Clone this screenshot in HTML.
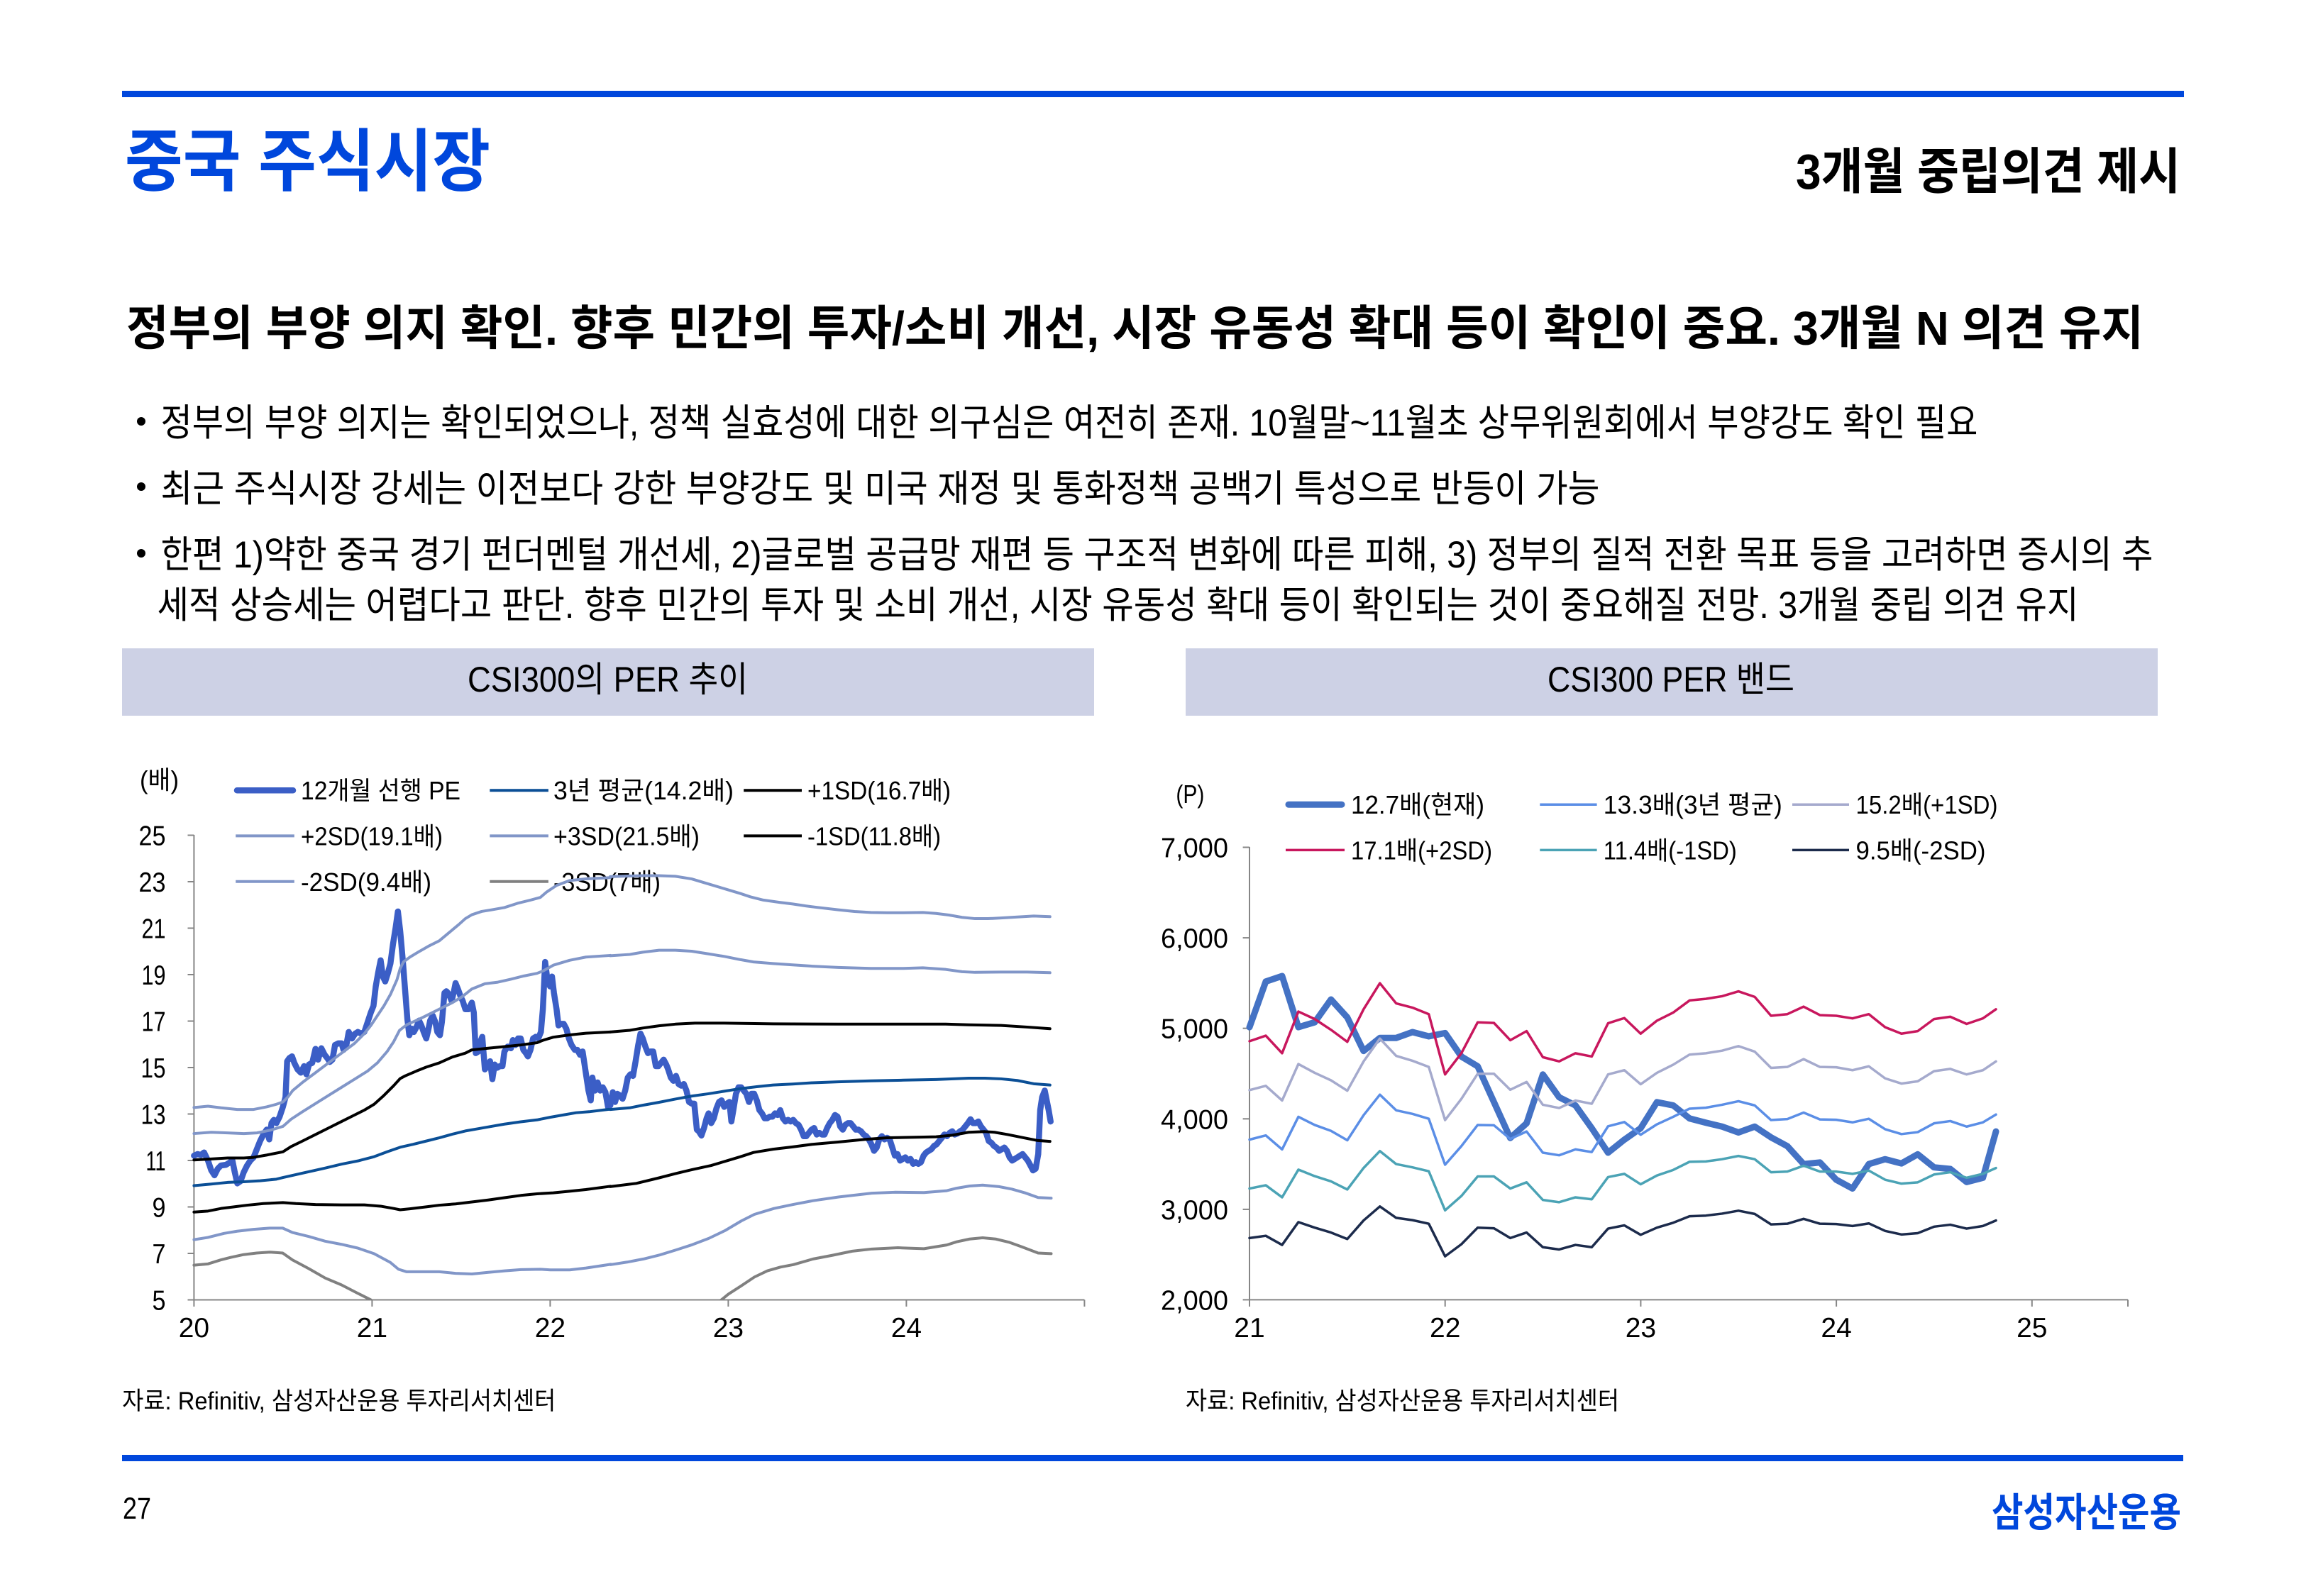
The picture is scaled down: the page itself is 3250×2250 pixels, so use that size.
<!DOCTYPE html>
<html lang="ko">
<head>
<meta charset="utf-8">
<title>중국 주식시장</title>
<style>
  html,body{margin:0;padding:0;background:#fff;}
  body{width:3250px;height:2250px;overflow:hidden;}
  svg{display:block;}
  text{font-family:"Liberation Sans","Noto Sans CJK KR","NanumGothic",sans-serif;fill:#000;}
  .ns{vector-effect:non-scaling-stroke;}
</style>
</head>
<body>
<svg xmlns="http://www.w3.org/2000/svg" width="3250" height="2250" viewBox="0 0 3250 2250">
  <defs>
    <clipPath id="clipL"><rect x="260" y="1080" width="1290" height="753"/></clipPath>
    <clipPath id="clipR"><rect x="1755" y="1100" width="1260" height="733"/></clipPath>
  </defs>
  <rect width="3250" height="2250" fill="#fff"/>

  <!-- Header -->
  <rect x="172" y="128" width="2906" height="9" fill="#0047DC"/>
  <text x="176" y="261" font-size="96" font-weight="700" style="fill:#0047DC" textLength="515" lengthAdjust="spacingAndGlyphs">중국 주식시장</text>
  <text x="2531" y="266" font-size="70" font-weight="700" textLength="542" lengthAdjust="spacingAndGlyphs">3개월 중립의견 제시</text>

  <text x="178" y="486" font-size="67" font-weight="700" textLength="2843" lengthAdjust="spacingAndGlyphs">정부의 부양 의지 확인. 향후 민간의 투자/소비 개선, 시장 유동성 확대 등이 확인이 중요. 3개월 N 의견 유지</text>

  <circle cx="199" cy="594" r="6" fill="#000"/>
  <text x="226.5" y="614" font-size="53" textLength="2561" lengthAdjust="spacingAndGlyphs">정부의 부양 의지는 확인되었으나, 정책 실효성에 대한 의구심은 여전히 존재. 10월말~11월초 상무위원회에서 부양강도 확인 필요</text>
  <circle cx="199" cy="686" r="6" fill="#000"/>
  <text x="226.5" y="707" font-size="53" textLength="2028" lengthAdjust="spacingAndGlyphs">최근 주식시장 강세는 이전보다 강한 부양강도 및 미국 재정 및 통화정책 공백기 특성으로 반등이 가능</text>
  <circle cx="199" cy="780" r="6" fill="#000"/>
  <text x="226.5" y="800" font-size="53" textLength="2808" lengthAdjust="spacingAndGlyphs">한편 1)약한 중국 경기 펀더멘털 개선세, 2)글로벌 공급망 재편 등 구조적 변화에 따른 피해, 3) 정부의 질적 전환 목표 등을 고려하면 증시의 추</text>
  <text x="221.5" y="871" font-size="53" textLength="2708" lengthAdjust="spacingAndGlyphs">세적 상승세는 어렵다고 판단. 향후 민간의 투자 및 소비 개선, 시장 유동성 확대 등이 확인되는 것이 중요해질 전망. 3개월 중립 의견 유지</text>

  <!-- Chart header boxes -->
  <rect x="172" y="914" width="1370" height="95" fill="#CDD1E5"/>
  <text x="659" y="975" font-size="50" textLength="395" lengthAdjust="spacingAndGlyphs">CSI300의 PER 추이</text>
  <rect x="1671" y="914" width="1370" height="95" fill="#CDD1E5"/>
  <text x="2181" y="975" font-size="50" textLength="348" lengthAdjust="spacingAndGlyphs">CSI300 PER 밴드</text>

  <!-- ================= LEFT CHART ================= -->
  <text x="197" y="1112" font-size="36" textLength="55" lengthAdjust="spacingAndGlyphs">(배)</text>

  <!-- legend -->
  <g fill="none">
    <line x1="334" y1="1114.2" x2="413" y2="1114.2" stroke="#3B5EC6" stroke-width="8.5" stroke-linecap="round"/>
    <line x1="690.3" y1="1114.2" x2="772.9" y2="1114.2" stroke="#0B4F96" stroke-width="4"/>
    <line x1="1048.2" y1="1114.2" x2="1130" y2="1114.2" stroke="#000" stroke-width="4"/>
    <line x1="332.2" y1="1178.4" x2="414.8" y2="1178.4" stroke="#8196C8" stroke-width="4"/>
    <line x1="690.3" y1="1178.4" x2="772.9" y2="1178.4" stroke="#8196C8" stroke-width="4"/>
    <line x1="1048.2" y1="1178.4" x2="1130" y2="1178.4" stroke="#000" stroke-width="4"/>
    <line x1="332.2" y1="1242.7" x2="414.8" y2="1242.7" stroke="#8196C8" stroke-width="4"/>
    <line x1="690.3" y1="1242.7" x2="772.9" y2="1242.7" stroke="#808080" stroke-width="4"/>
  </g>
  <g font-size="36">
    <text x="424" y="1127" textLength="225" lengthAdjust="spacingAndGlyphs">12개월 선행 PE</text>
    <text x="780" y="1127" textLength="254" lengthAdjust="spacingAndGlyphs">3년 평균(14.2배)</text>
    <text x="1138" y="1127" textLength="202" lengthAdjust="spacingAndGlyphs">+1SD(16.7배)</text>
    <text x="424" y="1191.5" textLength="200" lengthAdjust="spacingAndGlyphs">+2SD(19.1배)</text>
    <text x="780" y="1191.5" textLength="206" lengthAdjust="spacingAndGlyphs">+3SD(21.5배)</text>
    <text x="1138" y="1191.5" textLength="188" lengthAdjust="spacingAndGlyphs">-1SD(11.8배)</text>
    <text x="424" y="1256" textLength="184" lengthAdjust="spacingAndGlyphs">-2SD(9.4배)</text>
    <text x="780" y="1256" textLength="151" lengthAdjust="spacingAndGlyphs">-3SD(7배)</text>
  </g>

  <!-- axes -->
  <g stroke="#868686" stroke-width="2" fill="none">
    <line x1="273.4" y1="1177" x2="273.4" y2="1833"/>
    <line x1="273.4" y1="1832.5" x2="1528.4" y2="1832.5"/>
    <line x1="264.5" y1="1177.5" x2="273.4" y2="1177.5"/>
    <line x1="264.5" y1="1243" x2="273.4" y2="1243"/>
    <line x1="264.5" y1="1308.5" x2="273.4" y2="1308.5"/>
    <line x1="264.5" y1="1374" x2="273.4" y2="1374"/>
    <line x1="264.5" y1="1439.5" x2="273.4" y2="1439.5"/>
    <line x1="264.5" y1="1505" x2="273.4" y2="1505"/>
    <line x1="264.5" y1="1570.5" x2="273.4" y2="1570.5"/>
    <line x1="264.5" y1="1636" x2="273.4" y2="1636"/>
    <line x1="264.5" y1="1701.5" x2="273.4" y2="1701.5"/>
    <line x1="264.5" y1="1767" x2="273.4" y2="1767"/>
    <line x1="264.5" y1="1832.5" x2="273.4" y2="1832.5"/>
    <line x1="273.4" y1="1832.5" x2="273.4" y2="1842"/>
    <line x1="524.4" y1="1832.5" x2="524.4" y2="1842"/>
    <line x1="775.4" y1="1832.5" x2="775.4" y2="1842"/>
    <line x1="1026.4" y1="1832.5" x2="1026.4" y2="1842"/>
    <line x1="1277.4" y1="1832.5" x2="1277.4" y2="1842"/>
    <line x1="1528.4" y1="1832.5" x2="1528.4" y2="1842"/>
  </g>
  <g font-size="39" text-anchor="end">
    <text x="233.5" y="1191.5" textLength="38" lengthAdjust="spacingAndGlyphs">25</text>
    <text x="233.5" y="1257" textLength="38" lengthAdjust="spacingAndGlyphs">23</text>
    <text x="233.5" y="1322.5" textLength="34" lengthAdjust="spacingAndGlyphs">21</text>
    <text x="233.5" y="1388" textLength="34" lengthAdjust="spacingAndGlyphs">19</text>
    <text x="233.5" y="1453.5" textLength="34" lengthAdjust="spacingAndGlyphs">17</text>
    <text x="233.5" y="1519" textLength="35" lengthAdjust="spacingAndGlyphs">15</text>
    <text x="233.5" y="1584.5" textLength="35" lengthAdjust="spacingAndGlyphs">13</text>
    <text x="233.5" y="1650" textLength="28" lengthAdjust="spacingAndGlyphs">11</text>
    <text x="233.5" y="1715.5" textLength="19" lengthAdjust="spacingAndGlyphs">9</text>
    <text x="233.5" y="1781" textLength="19" lengthAdjust="spacingAndGlyphs">7</text>
    <text x="233.5" y="1846.5" textLength="19" lengthAdjust="spacingAndGlyphs">5</text>
  </g>
  <g font-size="39" text-anchor="middle">
    <text x="273.4" y="1885">20</text>
    <text x="524.4" y="1885">21</text>
    <text x="775.4" y="1885">22</text>
    <text x="1026.4" y="1885">23</text>
    <text x="1277.4" y="1885">24</text>
  </g>

  <g clip-path="url(#clipL)" fill="none" stroke-linejoin="round" stroke-linecap="round">
    <!-- zoom-3 region -->
    <g transform="matrix(0.4591,0,0,0.4591,160,1060)">
      <polyline class="ns" stroke="#3B5EC6" stroke-width="8.5" points="247,1240 258,1235 268,1238 278,1230 290,1255 300,1285 310,1300 320,1280 330,1270 345,1268 355,1262 365,1255 372,1290 380,1325 390,1318 400,1290 410,1270 420,1255 430,1245 440,1220 450,1195 460,1175 470,1160 478,1190 485,1140 492,1130 500,1140 510,1120 520,1090 528,1060 533,950 540,940 548,935 555,955 565,975 575,985 585,965 592,990 600,960 610,955 620,912 628,945 638,910 648,930 656,940 664,952 672,945 680,900 690,895 700,895 706,915 714,905 722,860 732,880 742,865 750,860 760,865 770,860 780,830 790,800 798,780 805,720 812,680 820,640 827,690 834,705 842,680 850,650 858,590 866,540 873,490 880,550 888,640 895,730 902,820 908,870 916,850 922,860 930,845 938,825 945,840 952,860 960,880 966,855 972,825 980,810 988,830 994,860 1002,870 1008,830 1016,740 1022,735 1030,745 1038,765 1045,735 1050,710 1058,730 1065,750 1072,765 1080,790 1090,790 1100,770 1106,800 1112,925 1120,920 1126,890 1132,875 1140,975 1148,965 1156,950 1163,1005 1170,960 1178,970 1186,965 1194,965 1200,920 1210,905 1220,910 1226,885 1234,900 1242,880 1250,880 1258,915 1266,925 1272,935 1280,915 1288,880 1296,875 1304,880 1312,860 1318,790 1325,645 1332,700 1340,720 1346,690 1352,740 1360,790 1366,840 1374,835 1382,835 1390,850 1398,880 1406,900 1416,915 1424,915 1432,930 1440,920 1446,960 1452,1000 1458,1040 1465,1070 1470,1000 1478,1040 1486,1015 1494,1040 1502,1030 1510,1045 1518,1090 1525,1085"/>
      <polyline class="ns" stroke="#0B4F96" stroke-width="4" points="247,1332 300,1327 350,1322 400,1320 450,1317 500,1312 520,1307 560,1298 600,1289 650,1278 700,1266 750,1256 800,1243 840,1228 880,1214 920,1205 960,1195 1000,1185 1040,1174 1080,1164 1120,1157 1160,1150 1200,1143 1250,1136 1300,1130 1340,1122 1380,1115 1420,1108 1460,1105 1525,1097"/>
      <polyline class="ns" stroke="#000" stroke-width="4" points="247,1253 300,1250 350,1247 400,1247 430,1245 470,1238 520,1228 545,1212 580,1195 620,1175 660,1155 700,1135 740,1115 770,1100 800,1082 830,1055 860,1025 880,1003 895,995 930,980 960,968 1000,955 1040,937 1080,925 1100,915 1150,910 1200,905 1250,900 1300,893 1320,885 1350,876 1400,869 1450,864 1525,860"/>
      <polyline class="ns" stroke="#8196C8" stroke-width="4" points="247,1172 300,1168 350,1170 400,1172 440,1170 480,1162 520,1150 545,1128 580,1105 620,1080 660,1055 700,1030 740,1005 780,980 810,955 840,920 860,890 878,855 900,838 940,820 980,800 1010,785 1040,770 1070,752 1100,728 1140,712 1180,707 1220,698 1260,688 1300,680 1320,672 1350,655 1400,640 1450,630 1525,625"/>
      <polyline class="ns" stroke="#8196C8" stroke-width="4" points="247,1092 290,1088 330,1093 380,1098 430,1098 470,1090 500,1082 520,1075 535,1060 550,1040 580,1015 620,985 660,955 700,925 740,895 770,865 790,840 810,810 830,780 850,745 870,700 880,665 890,645 910,630 940,612 970,595 1000,580 1030,555 1060,530 1080,512 1100,500 1130,490 1160,485 1200,478 1240,465 1280,455 1310,447 1330,430 1360,410 1400,395 1450,390 1525,386"/>
      <polyline class="ns" stroke="#000" stroke-width="4" points="247,1413 290,1410 330,1402 370,1397 410,1392 460,1387 520,1384 560,1387 620,1390 700,1391 770,1391 820,1395 860,1402 880,1406 910,1403 960,1397 1000,1392 1050,1388 1100,1382 1150,1376 1200,1369 1250,1362 1300,1357 1350,1354 1400,1349 1450,1344 1525,1334"/>
    </g>
    <!-- zoom-4 region -->
    <g transform="matrix(0.4591,0,0,0.4591,860,1060)">
      <polyline class="ns" stroke="#3B5EC6" stroke-width="8.5" points="0,1085 8,1045 15,1075 22,1050 30,1055 38,1065 46,1040 54,1000 62,990 70,995 78,950 86,900 93,865 100,880 108,905 116,925 124,920 132,920 140,965 148,965 156,955 164,945 172,960 178,975 186,1000 194,1010 202,995 210,1020 218,1025 226,1020 234,1040 242,1075 250,1080 258,1080 266,1160 272,1165 280,1178 288,1155 296,1125 302,1110 310,1140 318,1125 326,1095 334,1075 342,1070 350,1090 358,1080 366,1075 372,1135 378,1100 386,1050 394,1030 402,1030 410,1040 418,1050 426,1075 434,1050 442,1050 450,1070 458,1100 466,1110 474,1125 482,1125 490,1120 498,1120 506,1110 514,1115 522,1100 530,1125 538,1135 546,1130 554,1135 562,1130 570,1140 578,1145 586,1160 594,1180 602,1180 610,1170 618,1160 626,1155 634,1175 642,1170 650,1175 658,1175 666,1155 674,1140 682,1130 690,1115 698,1120 706,1150 714,1160 722,1145 730,1140 738,1140 746,1150 754,1160 762,1160 770,1165 778,1175 786,1180 794,1190 802,1205 810,1225 818,1215 826,1190 834,1180 842,1190 850,1185 858,1190 866,1215 874,1240 882,1235 890,1255 898,1250 906,1245 914,1255 922,1250 930,1265 938,1260 946,1265 954,1260 962,1240 970,1230 978,1225 986,1220 994,1210 1002,1205 1010,1195 1018,1185 1026,1175 1034,1180 1042,1170 1050,1165 1058,1175 1066,1172 1074,1165 1082,1160 1090,1150 1098,1140 1106,1128 1114,1140 1122,1140 1130,1135 1138,1150 1146,1160 1154,1170 1162,1195 1170,1200 1178,1210 1186,1215 1194,1225 1202,1220 1210,1215 1218,1225 1226,1245 1234,1255 1242,1250 1250,1245 1258,1240 1266,1235 1274,1245 1282,1255 1290,1270 1298,1285 1306,1280 1314,1235 1320,1100 1326,1060 1334,1040 1340,1070 1346,1100 1352,1135"/>
      <polyline class="ns" stroke="#0B4F96" stroke-width="4" points="0,1098 60,1093 100,1085 150,1076 200,1066 250,1057 300,1050 350,1042 400,1034 450,1028 500,1023 560,1020 620,1016 700,1013 800,1010 900,1008 1000,1006 1100,1002 1150,1002 1200,1004 1250,1009 1300,1019 1350,1023"/>
      <polyline class="ns" stroke="#000" stroke-width="4" points="0,860 60,855 100,848 150,841 200,836 260,833 350,833 500,835 700,836 900,836 1030,836 1100,838 1200,840 1280,845 1350,850"/>
      <polyline class="ns" stroke="#8196C8" stroke-width="4" points="0,626 60,622 100,615 150,609 200,609 250,612 300,620 350,628 400,638 440,645 500,650 560,654 620,658 700,662 800,665 900,665 960,663 1030,668 1080,675 1120,677 1200,676 1280,676 1350,678"/>
      <polyline class="ns" stroke="#8196C8" stroke-width="4" points="0,383 100,380 150,380 200,382 250,390 300,405 350,420 400,435 430,445 470,455 520,462 560,467 600,473 640,478 700,485 750,490 800,493 850,494 900,494 960,493 1000,496 1040,501 1080,508 1120,512 1160,512 1200,510 1250,507 1300,504 1350,506"/>
      <polyline class="ns" stroke="#000" stroke-width="4" points="0,1335 80,1325 150,1308 200,1295 250,1283 310,1270 360,1255 400,1243 440,1230 500,1220 560,1213 620,1205 700,1198 780,1190 850,1185 950,1183 1000,1182 1050,1177 1100,1168 1150,1166 1180,1168 1220,1175 1270,1185 1310,1193 1350,1196"/>
    </g>
    <!-- zoom-7 region (lower bands) -->
    <g transform="matrix(0.4597,0,0,0.4396,159.4,1560.8)">
      <polyline class="ns" stroke="#8196C8" stroke-width="4" points="248,425 290,418 340,405 380,398 430,392 480,388 520,388 550,402 600,415 650,430 700,440 750,452 800,470 850,498 875,520 900,528 1000,528 1050,533 1100,535 1150,530 1200,525 1250,521 1310,520 1340,522 1400,522 1450,516 1526,504"/>
      <polyline class="ns" stroke="#808080" stroke-width="4" points="248,507 290,503 330,490 360,482 400,473 440,468 480,465 520,468 550,490 600,518 650,548 700,570 750,597 790,618 800,630"/>
    </g>
    <g transform="matrix(0.4597,0,0,0.4396,860.9,1560.8)">
      <polyline class="ns" stroke="#8196C8" stroke-width="4" points="0,505 50,497 100,487 150,474 200,458 250,441 300,421 350,396 400,365 440,344 500,325 560,312 620,300 700,288 750,282 800,276 870,273 960,274 1030,268 1060,260 1100,253 1140,250 1190,255 1230,263 1270,275 1310,290 1350,292"/>
      <polyline class="ns" stroke="#808080" stroke-width="4" points="325,630 360,600 400,573 440,545 480,525 520,513 560,505 620,487 680,475 740,462 800,455 880,451 960,454 1030,442 1060,432 1100,423 1140,419 1180,423 1220,433 1260,448 1310,468 1350,470"/>
    </g>
  </g>

  <text x="172.3" y="1987" font-size="35" textLength="611" lengthAdjust="spacingAndGlyphs">자료: Refinitiv, 삼성자산운용 투자리서치센터</text>

  <!-- ================= RIGHT CHART ================= -->
  <text x="1657.4" y="1132" font-size="36" textLength="40" lengthAdjust="spacingAndGlyphs">(P)</text>
  <g fill="none">
    <line x1="1816" y1="1134.2" x2="1891" y2="1134.2" stroke="#4472C4" stroke-width="9" stroke-linecap="round"/>
    <line x1="2170.3" y1="1134.2" x2="2250.6" y2="1134.2" stroke="#5B8EE6" stroke-width="3.5"/>
    <line x1="2526" y1="1134.2" x2="2606" y2="1134.2" stroke="#A5AACD" stroke-width="3.5"/>
    <line x1="1812" y1="1198.4" x2="1895" y2="1198.4" stroke="#C8175D" stroke-width="3.5"/>
    <line x1="2170.3" y1="1198.4" x2="2250.6" y2="1198.4" stroke="#4BA3B5" stroke-width="3.5"/>
    <line x1="2526" y1="1198.4" x2="2606" y2="1198.4" stroke="#1C2B4C" stroke-width="3.5"/>
  </g>
  <g font-size="36">
    <text x="1904" y="1147.2" textLength="188" lengthAdjust="spacingAndGlyphs">12.7배(현재)</text>
    <text x="2259.8" y="1147.2" textLength="252" lengthAdjust="spacingAndGlyphs">13.3배(3년 평균)</text>
    <text x="2615.5" y="1147.2" textLength="200" lengthAdjust="spacingAndGlyphs">15.2배(+1SD)</text>
    <text x="1904" y="1211.4" textLength="199" lengthAdjust="spacingAndGlyphs">17.1배(+2SD)</text>
    <text x="2259.8" y="1211.4" textLength="188" lengthAdjust="spacingAndGlyphs">11.4배(-1SD)</text>
    <text x="2615.5" y="1211.4" textLength="183" lengthAdjust="spacingAndGlyphs">9.5배(-2SD)</text>
  </g>

  <g stroke="#868686" stroke-width="2" fill="none">
    <line x1="1761" y1="1194" x2="1761" y2="1833"/>
    <line x1="1761" y1="1832.4" x2="2999" y2="1832.4"/>
    <line x1="1751.6" y1="1194.5" x2="1761" y2="1194.5"/>
    <line x1="1751.6" y1="1322.1" x2="1761" y2="1322.1"/>
    <line x1="1751.6" y1="1449.7" x2="1761" y2="1449.7"/>
    <line x1="1751.6" y1="1577.3" x2="1761" y2="1577.3"/>
    <line x1="1751.6" y1="1704.9" x2="1761" y2="1704.9"/>
    <line x1="1751.6" y1="1832.4" x2="1761" y2="1832.4"/>
    <line x1="1761" y1="1832.4" x2="1761" y2="1842"/>
    <line x1="2036.7" y1="1832.4" x2="2036.7" y2="1842"/>
    <line x1="2312.4" y1="1832.4" x2="2312.4" y2="1842"/>
    <line x1="2588.1" y1="1832.4" x2="2588.1" y2="1842"/>
    <line x1="2863.8" y1="1832.4" x2="2863.8" y2="1842"/>
    <line x1="2999" y1="1832.4" x2="2999" y2="1842"/>
  </g>
  <g font-size="39" text-anchor="end">
    <text x="1731" y="1208.5" textLength="95" lengthAdjust="spacingAndGlyphs">7,000</text>
    <text x="1731" y="1336.1" textLength="95" lengthAdjust="spacingAndGlyphs">6,000</text>
    <text x="1731" y="1463.7" textLength="95" lengthAdjust="spacingAndGlyphs">5,000</text>
    <text x="1731" y="1591.3" textLength="95" lengthAdjust="spacingAndGlyphs">4,000</text>
    <text x="1731" y="1718.9" textLength="95" lengthAdjust="spacingAndGlyphs">3,000</text>
    <text x="1731" y="1846.4" textLength="95" lengthAdjust="spacingAndGlyphs">2,000</text>
  </g>
  <g font-size="39" text-anchor="middle">
    <text x="1761" y="1885">21</text>
    <text x="2036.7" y="1885">22</text>
    <text x="2312.4" y="1885">23</text>
    <text x="2588.1" y="1885">24</text>
    <text x="2863.8" y="1885">25</text>
  </g>

  <g clip-path="url(#clipR)" fill="none" stroke-linejoin="round" stroke-linecap="round">
    <g transform="matrix(22.97,0,0,0.4595,1761,1080.5)">
      <polyline class="ns" stroke="#4472C4" stroke-width="9" points="0,800 1,660 2,643 3,800 4,785 5,715 6,770 7,873 8,833 9,833 10,815 11,828 12,818 13,890 14,920 15,1030 16,1140 17,1095 18,945 19,1015 20,1040 21,1110 22,1185 23,1145 24,1110 25,1030 26,1040 27,1080 28,1093 29,1105 30,1123 31,1105 32,1138 33,1165 34,1220 35,1215 36,1268 37,1295 38,1220 39,1205 40,1218 41,1190 42,1230 43,1235 44,1275 45,1262 45.8,1120"/>
      <polyline class="ns" stroke="#5B8EE6" stroke-width="3.5" points="0,1145 1,1132 2,1175 3,1075 4,1100 5,1118 6,1147 7,1070 8,1007 9,1055 10,1066 11,1081 12,1222 13,1165 14,1100 15,1101 16,1143 17,1120 18,1185 19,1193 20,1175 21,1183 22,1104 23,1091 24,1130 25,1098 26,1075 27,1050 28,1047 29,1038 30,1027 31,1040 32,1085 33,1082 34,1062 35,1083 36,1084 37,1092 38,1081 39,1113 40,1128 41,1122 42,1095 43,1088 44,1105 45,1092 45.8,1068"/>
      <polyline class="ns" stroke="#A5AACD" stroke-width="3.5" points="0,993 1,980 2,1025 3,913 4,940 5,963 6,995 7,905 8,835 9,888 10,903 11,922 12,1085 13,1020 14,943 15,943 16,992 17,968 18,1038 19,1048 20,1025 21,1035 22,945 23,932 24,975 25,940 26,915 27,884 28,880 29,872 30,858 31,875 32,925 33,922 34,898 35,922 36,923 37,932 38,920 39,957 40,973 41,966 42,935 43,928 44,945 45,932 45.8,905"/>
      <polyline class="ns" stroke="#C8175D" stroke-width="3.5" points="0,843 1,826 2,880 3,752 4,775 5,808 6,845 7,745 8,665 9,727 10,740 11,760 12,945 13,880 14,785 15,787 16,840 17,812 18,892 19,905 20,880 21,890 22,788 23,772 24,820 25,780 26,755 27,718 28,713 29,705 30,690 31,707 32,765 33,760 34,737 35,763 36,765 37,773 38,760 39,800 40,820 41,812 42,775 43,768 44,790 45,773 45.8,745"/>
      <polyline class="ns" stroke="#4BA3B5" stroke-width="3.5" points="0,1295 1,1285 2,1322 3,1237 4,1257 5,1273 6,1298 7,1232 8,1180 9,1220 10,1230 11,1242 12,1362 13,1318 14,1258 15,1258 16,1295 17,1276 18,1330 19,1337 20,1322 21,1328 22,1260 23,1250 24,1282 25,1255 26,1238 27,1213 28,1212 29,1205 30,1195 31,1205 32,1245 33,1243 34,1225 35,1243 36,1243 37,1250 38,1240 39,1268 40,1280 41,1276 42,1252 43,1245 44,1262 45,1250 45.8,1232"/>
      <polyline class="ns" stroke="#1C2B4C" stroke-width="3.5" points="0,1447 1,1440 2,1468 3,1398 4,1415 5,1430 6,1450 7,1393 8,1350 9,1385 10,1392 11,1403 12,1503 13,1466 14,1415 15,1417 16,1447 17,1430 18,1475 19,1482 20,1468 21,1475 22,1418 23,1408 24,1437 25,1415 26,1400 27,1380 28,1378 29,1372 30,1363 31,1373 32,1405 33,1403 34,1388 35,1403 36,1404 37,1410 38,1402 39,1425 40,1436 41,1432 42,1412 43,1406 44,1418 45,1410 45.8,1393"/>
    </g>
  </g>

  <text x="1671" y="1987" font-size="35" textLength="611" lengthAdjust="spacingAndGlyphs">자료: Refinitiv, 삼성자산운용 투자리서치센터</text>

  <!-- Footer -->
  <rect x="172" y="2051" width="2905" height="9" fill="#0047DC"/>
  <text x="173" y="2141" font-size="43" textLength="40" lengthAdjust="spacingAndGlyphs">27</text>
  <text x="2807" y="2152" font-size="56" font-weight="700" style="fill:#0047DC" textLength="267" lengthAdjust="spacingAndGlyphs">삼성자산운용</text>
</svg>
</body>
</html>
